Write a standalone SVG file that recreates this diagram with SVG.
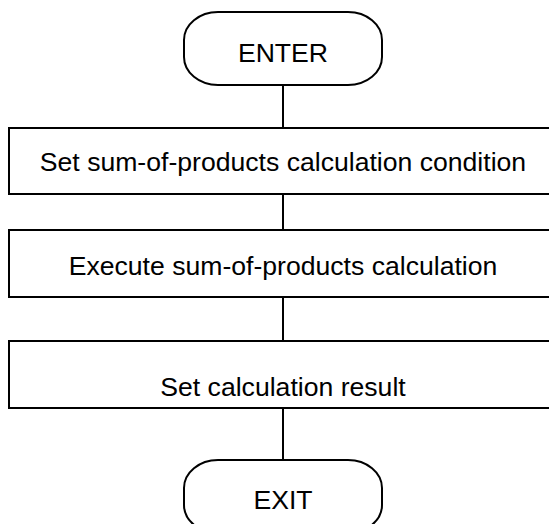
<svg xmlns="http://www.w3.org/2000/svg" width="549" height="524" viewBox="0 0 549 524">
<style>
.s{fill:#fff;stroke:#000;stroke-width:2}
.t{font-family:"Liberation Sans",Arial,sans-serif;font-size:26.6px;fill:#000;text-anchor:middle}
.c{stroke:#000;stroke-width:2;fill:none}
</style>
<rect width="549" height="524" fill="#fff"/>
<g id="connectors">
<line class="c" x1="283" y1="85" x2="283" y2="128"/>
<line class="c" x1="283" y1="194" x2="283" y2="230"/>
<line class="c" x1="283" y1="297" x2="283" y2="341"/>
<line class="c" x1="283" y1="408" x2="283" y2="460"/>
</g>
<g id="enter">
<rect class="s" x="184" y="12" width="198" height="73" rx="34" ry="28"/>
<text class="t" x="283" y="62">ENTER</text>
</g>
<g id="step1">
<rect class="s" x="9" y="128" width="549" height="66"/>
<text class="t" x="283" y="171">Set sum-of-products calculation condition</text>
</g>
<g id="step2">
<rect class="s" x="9" y="230" width="549" height="67"/>
<text class="t" x="283" y="275">Execute sum-of-products calculation</text>
</g>
<g id="step3">
<rect class="s" x="9" y="341" width="549" height="67"/>
<text class="t" x="283" y="396">Set calculation result</text>
</g>
<g id="exit">
<rect class="s" x="184" y="460" width="198" height="73" rx="34" ry="28"/>
<text class="t" x="283" y="509">EXIT</text>
</g>
</svg>
